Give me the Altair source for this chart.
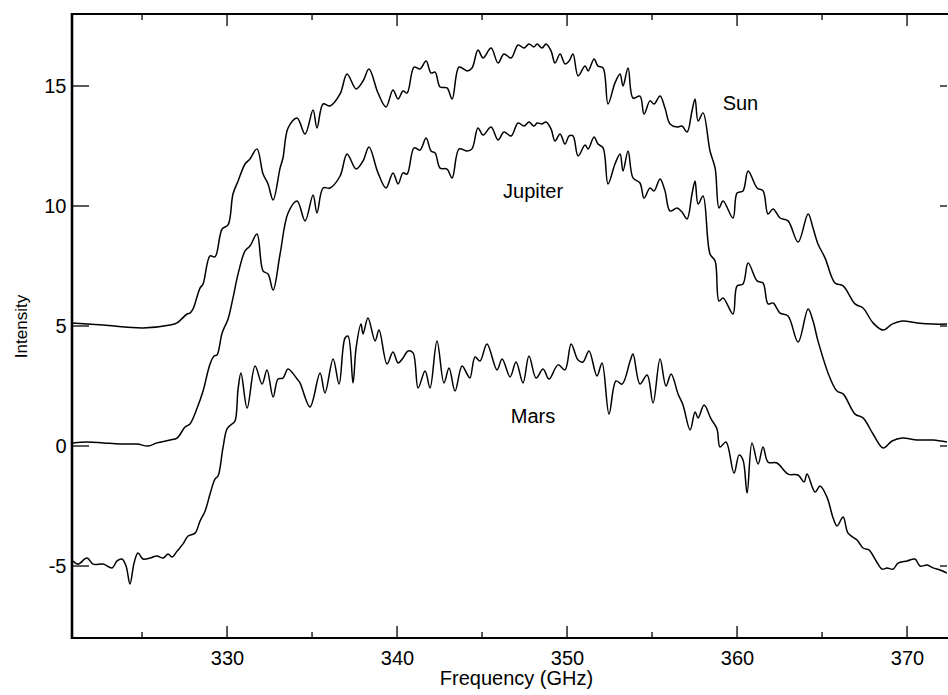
import altair as alt
import pandas as pd

# ---- data ----
sun_f = [320.88, 322.71, 325.06, 326.65, 327.06, 327.65, 327.82, 328.0, 328.41, 328.59, 329.0, 329.29, 329.71,
         330.06, 330.35, 330.65, 331.06, 331.35, 331.76, 332.12, 332.41, 332.71, 333.12, 333.29, 333.59, 334.12,
         334.59, 335.06, 335.29, 335.65, 336.06, 336.65, 337.06, 337.59, 338.0, 338.35, 338.88, 339.35, 339.76,
         340.06, 340.35, 340.59, 341.0, 341.35, 341.71, 342.0, 342.24, 342.53, 342.94, 343.24, 343.65, 344.12,
         344.41, 344.76, 345.06, 345.53, 345.94, 346.29, 346.71, 347.12, 347.47, 347.76, 348.06, 348.24, 348.53,
         348.76, 349.06, 349.29, 349.59, 349.88, 350.12, 350.35, 350.65, 351.06, 351.24, 351.59, 351.82, 352.12,
         352.41, 352.82, 353.12, 353.29, 353.59, 353.88, 354.29, 354.53, 354.88, 355.12, 355.47, 355.76, 356.06,
         356.47, 356.76, 357.06, 357.35, 357.53, 357.71, 358.0, 358.41, 358.71, 358.94, 359.18, 359.76, 360.0,
         360.35, 360.65, 361.18, 361.53, 361.82, 362.12, 362.53, 363.0, 363.59, 364.18, 364.47, 364.76, 365.18,
         365.76, 366.24, 366.94, 367.41, 368.0, 368.59, 369.12, 369.71, 370.59, 371.53, 372.35]
sun_v = [5.13, 5.04, 4.92, 5.04, 5.13, 5.50, 5.54, 5.71, 6.58, 6.75, 7.92, 7.88, 9.04,
         9.21, 10.5, 11.04, 11.75, 11.96, 12.38, 11.33, 10.92, 10.25, 11.58, 12.0, 13.25, 13.67,
         13.0, 14.0, 13.25, 14.25, 14.17, 14.67, 15.5, 14.88, 15.21, 15.71, 14.71, 14.13, 14.83,
         14.46, 14.79, 14.71, 15.79, 15.71, 16.04, 15.54, 15.58, 14.96, 14.92, 14.46, 15.79, 15.63,
         15.75, 16.5, 16.17, 16.58, 15.96, 16.33, 16.17, 16.71, 16.58, 16.75, 16.63, 16.75, 16.58,
         16.75, 16.46, 15.96, 16.33, 15.92, 16.04, 16.33, 15.42, 15.83, 15.63, 16.13, 15.83, 15.75,
         14.25, 15.13, 15.5, 15.0, 15.75, 14.5, 14.58, 13.83, 14.38, 14.25, 14.58, 14.08, 13.42,
         13.29, 13.33, 13.08, 13.96, 14.46, 13.54, 13.88, 12.29, 11.58, 9.92, 10.21, 9.5, 10.54,
         10.63, 11.46, 10.75, 10.63, 9.67, 9.88, 9.5, 9.38, 8.5, 9.67, 9.08, 8.42, 7.83,
         6.79, 6.67, 5.92, 5.75, 5.13, 4.83, 5.08, 5.21, 5.13, 5.08, 5.08]

jup_f = [320.94, 321.76, 322.71, 323.71, 324.71, 325.35, 325.88, 326.65, 327.06, 327.53, 327.82, 328.24, 328.59,
         329.0, 329.24, 329.41, 329.71, 330.06, 330.35, 330.65, 331.06, 331.35, 331.76, 332.12, 332.41, 332.71,
         333.12, 333.59, 334.12, 334.59, 335.06, 335.29, 335.65, 336.06, 336.65, 337.06, 337.59, 338.0, 338.35,
         338.88, 339.35, 339.76, 340.06, 340.35, 340.59, 341.0, 341.35, 341.71, 342.0, 342.24, 342.53, 342.94,
         343.24, 343.65, 344.12, 344.41, 344.76, 345.06, 345.53, 345.94, 346.29, 346.71, 347.12, 347.47, 347.76,
         348.06, 348.24, 348.53, 348.76, 349.06, 349.29, 349.59, 349.88, 350.12, 350.35, 350.65, 351.06, 351.24,
         351.59, 351.82, 352.12, 352.41, 352.82, 353.12, 353.29, 353.59, 353.88, 354.29, 354.53, 354.88, 355.12,
         355.47, 355.76, 356.06, 356.47, 356.76, 357.06, 357.35, 357.53, 357.71, 358.0, 358.41, 358.71, 358.94,
         359.18, 359.76, 360.0, 360.35, 360.65, 361.18, 361.53, 361.82, 362.12, 362.53, 363.0, 363.59, 364.18,
         364.47, 364.76, 365.47, 365.88, 366.24, 366.94, 367.41, 368.0, 368.59, 369.12, 369.71, 370.59, 371.53,
         372.35]
jup_v = [0.13, 0.17, 0.13, 0.08, 0.08, 0.0, 0.13, 0.25, 0.33, 0.79, 0.92, 1.58, 2.29,
         3.42, 3.75, 3.79, 4.71, 5.29, 6.17, 7.17, 8.13, 8.33, 8.83, 7.29, 7.17, 6.5,
         8.0, 9.71, 10.21, 9.38, 10.46, 9.71, 10.75, 10.75, 11.25, 12.17, 11.54, 11.88, 12.46,
         11.38, 10.75, 11.38, 10.92, 11.38, 11.33, 12.42, 12.33, 12.83, 12.29, 12.21, 11.58, 11.54,
         11.17, 12.38, 12.29, 12.38, 13.25, 12.96, 13.29, 12.75, 13.08, 12.92, 13.46, 13.33, 13.5,
         13.33, 13.46, 13.42, 13.5, 13.21, 12.71, 13.0, 12.58, 12.92, 12.92, 12.08, 12.54, 12.38,
         12.88, 12.58, 12.42, 10.92, 11.75, 12.17, 11.46, 12.29, 11.17, 10.96, 10.33, 10.75, 10.63,
         11.13, 10.63, 9.79, 9.92, 9.75, 9.46, 10.5, 11.04, 10.08, 10.42, 8.0, 7.71, 6.04,
         6.17, 5.5, 6.67, 6.75, 7.63, 6.88, 6.79, 5.92, 5.96, 5.54, 5.42, 4.33, 5.71,
         5.21, 4.38, 2.83, 2.29, 2.17, 1.33, 1.17, 0.5, -0.08, 0.21, 0.33, 0.25, 0.25,
         0.17]

mars_f = [320.94, 321.24, 321.76, 322.12, 322.71, 323.24, 323.53, 323.82, 324.06, 324.29, 324.53, 324.76, 325.06,
          325.47, 325.88, 326.24, 326.53, 326.76, 327.06, 327.41, 327.71, 328.12, 328.41, 328.71, 329.0, 329.29,
          329.47, 329.76, 330.0, 330.29, 330.47, 330.65, 330.82, 331.18, 331.65, 332.06, 332.35, 332.71, 333.0,
          333.29, 333.59, 334.12, 334.29, 334.88, 335.47, 335.76, 336.24, 336.59, 336.94, 337.12, 337.41, 337.59,
          337.88, 338.0, 338.29, 338.71, 338.94, 339.41, 339.76, 340.06, 340.35, 340.65, 340.94, 341.24, 341.65,
          341.94, 342.35, 342.76, 343.06, 343.41, 343.82, 344.12, 344.29, 344.59, 344.88, 345.29, 345.88, 346.18,
          346.65, 347.0, 347.41, 347.76, 348.18, 348.59, 348.94, 349.47, 349.88, 350.24, 350.65, 350.94, 351.29,
          351.76, 352.06, 352.47, 352.88, 353.24, 353.71, 353.88, 354.29, 354.71, 355.06, 355.47, 355.82, 356.12,
          356.53, 356.82, 357.24, 357.53, 357.71, 358.06, 358.47, 358.82, 359.0, 359.35, 359.82, 360.12, 360.35,
          360.59, 360.88, 361.24, 361.53, 361.82, 362.35, 363.0, 363.59, 363.94, 364.12, 364.59, 364.88, 365.29,
          365.65, 365.88, 366.24, 366.53, 367.06, 367.41, 367.76, 368.18, 368.53, 368.82, 369.18, 369.47, 370.0,
          370.47, 370.76, 371.18, 371.53, 371.94, 372.35]
mars_v = [-4.79, -4.92, -4.67, -4.92, -4.92, -5.08, -4.79, -4.71, -5.0, -5.75, -4.88, -4.46, -4.71,
          -4.67, -4.58, -4.67, -4.5, -4.63, -4.38, -4.08, -3.75, -3.63, -3.13, -2.71, -2.0, -1.38,
          -1.25, -0.08, 0.71, 0.92, 1.04, 2.38, 3.04, 1.58, 3.33, 2.58, 3.17, 2.04, 2.79,
          2.83, 3.21, 2.79, 2.63, 1.63, 3.04, 2.21, 3.63, 2.58, 4.5, 4.58, 2.63, 4.08,
          5.08, 4.67, 5.33, 4.38, 4.83, 3.42, 3.92, 3.46, 3.67, 3.96, 3.88, 2.42, 3.13,
          2.42, 4.38, 2.63, 3.25, 2.29, 3.33, 3.0, 2.83, 3.71, 3.54, 4.25, 3.17, 3.63,
          2.88, 3.5, 2.63, 3.75, 2.83, 3.21, 2.79, 3.38, 3.17, 4.25, 3.58, 3.5, 3.96,
          2.92, 3.46, 1.33, 2.71, 2.58, 3.54, 3.83, 2.58, 2.96, 1.79, 3.63, 2.5, 3.0,
          2.17, 1.71, 0.67, 1.42, 1.17, 1.71, 1.13, 0.71, -0.04, 0.17, -1.13, -0.38, -0.58,
          -1.96, 0.13, -0.75, -0.04, -0.67, -0.71, -1.17, -1.21, -1.5, -1.17, -1.92, -1.67, -2.13,
          -3.0, -3.33, -2.96, -3.63, -3.92, -4.25, -4.33, -4.79, -5.13, -5.08, -5.13, -4.88, -4.79,
          -4.71, -5.0, -4.96, -5.08, -5.17, -5.29]

label_names = ["Sun", "Jupiter", "Mars"]
label_f = [360.2, 348.0, 348.0]
label_v = [14.25, 10.6, 1.2]

x_major = [330, 340, 350, 360, 370]
x_minor = [325, 335, 345, 355, 365]
y_major = [-5, 0, 5, 10, 15]

X_DOMAIN = [320.88, 372.35]
Y_DOMAIN = [-8, 18]
FONT = "Liberation Sans"
W, H = 875, 624

# ---- tables ----
rows = []
for name, fs, vs in [("Sun", sun_f, sun_v), ("Jupiter", jup_f, jup_v), ("Mars", mars_f, mars_v)]:
    for f, v in zip(fs, vs):
        rows.append({"series": name, "freq": f, "val": v})
df = pd.DataFrame(rows)
labels_df = pd.DataFrame({"name": label_names, "freq": label_f, "val": label_v})
xmaj_df = pd.DataFrame({"freq": x_major})
xmin_df = pd.DataFrame({"freq": x_minor})
ymaj_df = pd.DataFrame({"val": y_major})

xs = alt.Scale(domain=X_DOMAIN, nice=False, zero=False)
ys = alt.Scale(domain=Y_DOMAIN, nice=False, zero=False)

x_axis = alt.Axis(
    values=x_major, format="d", ticks=False, tickSize=0, domain=False, grid=False,
    labelFont=FONT, labelFontSize=20, labelColor="black", labelPadding=10, labelFlush=False,
    title="Frequency (GHz)", titleFont=FONT, titleFontSize=20, titleFontWeight="normal",
    titleColor="black", titleX=444, titleY=46, titleBaseline="alphabetic", titleAlign="center")
y_axis = alt.Axis(
    values=y_major, ticks=False, tickSize=0, domain=False, grid=False,
    labelExpr="'' + datum.value",
    labelFont=FONT, labelFontSize=20, labelColor="black", labelPadding=6,
    title="Intensity", titleFont=FONT, titleFontSize=17, titleFontWeight="normal",
    titleColor="black", titleAngle=270, titleX=-46, titleY=312, titleBaseline="alphabetic",
    titleAlign="center")

lines = alt.Chart(df).mark_line(color="black", strokeWidth=1.5, interpolate="catmull-rom", clip=True).encode(
    x=alt.X("freq:Q", scale=xs, axis=x_axis, title="Frequency (GHz)"),
    y=alt.Y("val:Q", scale=ys, axis=y_axis, title="Intensity"),
    detail="series:N",
    order="freq:Q",
)

texts = alt.Chart(labels_df).mark_text(font=FONT, fontSize=20, color="black", align="center",
                                       baseline="middle").encode(
    x=alt.X("freq:Q", scale=xs, title="Frequency (GHz)"),
    y=alt.Y("val:Q", scale=ys, title="Intensity"),
    text="name:N",
)

def xtick(data, y1, y2):
    return alt.Chart(data).mark_rule(color="black", strokeWidth=1.3).encode(
        x=alt.X("freq:Q", scale=xs, title="Frequency (GHz)"), y=alt.value(y1), y2=alt.value(y2))

def ytick(data, x1, x2):
    return alt.Chart(data).mark_rule(color="black", strokeWidth=1.3).encode(
        y=alt.Y("val:Q", scale=ys, title="Intensity"), x=alt.value(x1), x2=alt.value(x2))

ticks = [
    xtick(xmaj_df, H, H - 12), xtick(xmin_df, H, H - 6),
    xtick(xmaj_df, 0, 12), xtick(xmin_df, 0, 6),
    ytick(ymaj_df, 0, 17), ytick(ymaj_df, W, W - 7),
]

# frame: left, top and bottom edges (right edge lies just outside the picture)
frame_df = pd.DataFrame({"edge": ["frame"]})
left_edge = alt.Chart(frame_df).mark_rule(color="black", strokeWidth=2.6).encode(
    x=alt.value(0), y=alt.value(-1), y2=alt.value(H + 1))
top_edge = alt.Chart(frame_df).mark_rule(color="black", strokeWidth=2.0).encode(
    x=alt.value(0), x2=alt.value(W + 1), y=alt.value(0))
bottom_edge = alt.Chart(frame_df).mark_rule(color="black", strokeWidth=2.0).encode(
    x=alt.value(0), x2=alt.value(W + 1), y=alt.value(H))

chart = alt.layer(lines, texts, *ticks, left_edge, top_edge, bottom_edge).properties(
    width=W, height=H,
    autosize=alt.AutoSizeParams(type="none"),
    padding={"left": 72, "top": 14, "right": 1, "bottom": 57},
    background="white",
).configure_view(stroke=None)

chart.save("out.html", embed_options={"renderer": "svg", "actions": False})
